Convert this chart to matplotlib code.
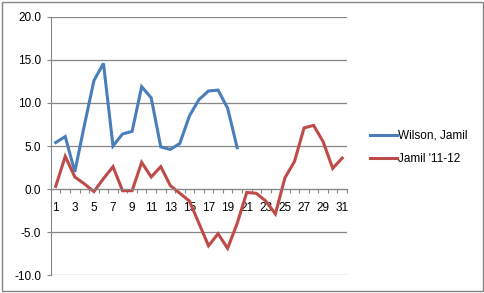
import numpy as np
import matplotlib
matplotlib.use("Agg")
import matplotlib.pyplot as plt
from matplotlib.patches import Rectangle
from matplotlib.ticker import FormatStrFormatter

plt.rcParams['font.family'] = ['Liberation Sans', 'DejaVu Sans']

# values
wilson = [5.4, 6.1, 2.0, 7.4, 12.6, 14.6, 5.0, 6.4, 6.7, 11.9,
          10.6, 4.9, 4.6, 5.3, 8.5, 10.4, 11.4, 11.5, 9.4, 4.8]
jamil = [0.3, 3.8, 1.4, 0.6, -0.3, 1.2, 2.6, -0.2, -0.2, 3.1,
         1.4, 2.6, 0.4, -0.5, -1.4, -4.0, -6.6, -5.2, -6.9, -4.0,
         -0.4, -0.5, -1.4, -2.9, 1.3, 3.2, 7.1, 7.4, 5.5, 2.4, 3.6]
names = ["Wilson, Jamil", "Jamil '11-12"]

blue = "#4A7EBB"
red = "#BE4B48"
grey = "#868686"

fig = plt.figure(figsize=(4.85, 2.93), dpi=100)
ax = fig.add_axes([0.105, 0.0614, 0.6105, 0.8806])

ax.plot(np.arange(1, len(wilson) + 1), wilson, color=blue, lw=2.2, label=names[0],
        solid_joinstyle='miter')
ax.plot(np.arange(1, len(jamil) + 1), jamil, color=red, lw=2.2, label=names[1],
        solid_joinstyle='miter')

ax.set_xlim(0.5, 31.5)
ax.set_ylim(-10, 20)
ax.set_yticks(range(-10, 21, 5))
ax.yaxis.set_major_formatter(FormatStrFormatter('%.1f'))
ax.yaxis.grid(True, color=grey, lw=0.9)
ax.set_axisbelow(True)

ax.spines['top'].set_visible(False)
ax.spines['right'].set_visible(False)
ax.spines['left'].set_color(grey)
ax.spines['bottom'].set_color(grey)
ax.spines['bottom'].set_position(('data', 0))

# tick marks on category boundaries, labels on odd categories
ax.set_xticks(np.arange(0.5, 32, 1))
ax.set_xticklabels([])
ax.set_xticks(np.arange(1, 32, 2), minor=True)
ax.set_xticklabels([str(i) for i in range(1, 32, 2)], minor=True)
ax.tick_params(axis='x', which='major', direction='out', length=3, color=grey)
ax.tick_params(axis='x', which='minor', length=0, pad=9, labelsize=8.5)
ax.tick_params(axis='y', direction='out', length=3, color=grey, labelsize=8.5, pad=4)

fig.legend(loc='center left', bbox_to_anchor=(0.74, 0.497), frameon=False,
           fontsize=8.5, handlelength=2.3, handletextpad=0.1, labelspacing=0.95)

fig.patches.append(Rectangle((0.004, 0.007), 0.991, 0.986, transform=fig.transFigure,
                             fill=False, edgecolor=grey, lw=1))

fig.savefig("out.png", dpi=100)
